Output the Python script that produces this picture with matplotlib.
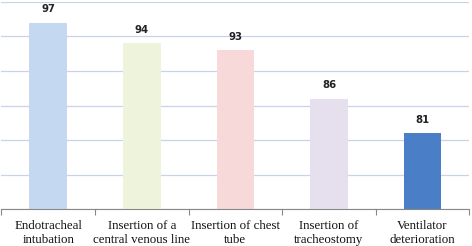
import numpy as np
import matplotlib.pyplot as plt

categories = ["Endotracheal\nintubation", "Insertion of a\ncentral venous line",
              "Insertion of chest\ntube", "Insertion of\ntracheostomy",
              "Ventilator\ndeterioration"]
values = [97, 94, 93, 86, 81]
colors = ["#c5d8f2", "#eef3dc", "#f7d9d9", "#e6e0ee", "#4a7fc8"]

fig = plt.figure(figsize=(4.72, 2.46), dpi=100)
ax = fig.add_axes([0.003, 0.15, 0.9915, 0.842])

x = np.arange(len(values))
ax.bar(x, values, width=0.4, color=colors, zorder=2)
for xi, v in zip(x, values):
    ax.text(xi, v + 1.2, str(v), ha="center", va="bottom",
            fontsize=7.3, fontweight="bold", color="#222222")

ax.set_ylim(70, 100)
ax.set_xlim(-0.5, len(values) - 0.5)
ax.set_yticks(np.arange(70, 101, 5))
ax.yaxis.grid(True, color="#c8d3e8", linewidth=0.9, zorder=0)
ax.tick_params(axis="y", left=False, labelleft=False)

ax.set_xticks(x)
ax.set_xticklabels(categories, fontsize=9.3, family="Liberation Serif",
                   linespacing=1.25, color="#111111")
ax.tick_params(axis="x", length=0, pad=7.5)
ax.set_xticks(np.arange(-0.5, len(values), 1.0), minor=True)
ax.tick_params(axis="x", which="minor", length=4, color="#888888", width=0.8)

for s in ["top", "right", "left"]:
    ax.spines[s].set_visible(False)
ax.spines["bottom"].set_color("#888888")
ax.spines["bottom"].set_linewidth(0.8)

fig.savefig("out.png", dpi=100)
